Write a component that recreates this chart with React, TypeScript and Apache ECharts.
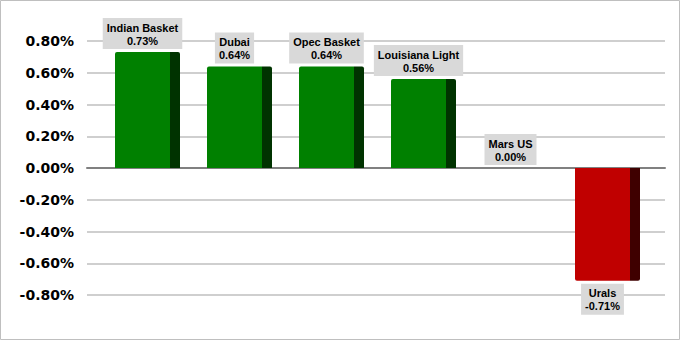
import React, { useEffect, useRef } from "react";
import * as echarts from "echarts";

const categories = ["Indian Basket", "Dubai", "Opec Basket", "Louisiana Light", "Mars US", "Urals"];
const values = [0.73, 0.64, 0.64, 0.56, 0.0, -0.71];
const yTicks = { min: -0.8, max: 0.8, interval: 0.2 };

const POS_FRONT = "#008000";
const POS_SIDE = "#003300";
const NEG_FRONT = "#c00000";
const NEG_SIDE = "#3f0000";

export default function App() {
  const ref = useRef<HTMLDivElement>(null);
  useEffect(() => {
    if (!ref.current) return;
    const chart = echarts.init(ref.current, null, { renderer: "svg" });
    const front = values.map((v) => ({
      value: v,
      itemStyle: {
        color: v < 0 ? NEG_FRONT : POS_FRONT,
        borderRadius: v < 0 ? [0, 0, 0, 2] : [2, 0, 0, 0],
      },
      label: { position: v < 0 ? "bottom" : "top" },
    }));
    const side = values.map((v) => ({
      value: v,
      itemStyle: {
        color: v < 0 ? NEG_SIDE : POS_SIDE,
        borderRadius: v < 0 ? [0, 0, 2, 0] : [0, 2, 0, 0],
      },
    }));
    chart.setOption({
      animation: false,
      backgroundColor: "#ffffff",
      graphic: [
        {
          type: "rect",
          shape: { x: 0.5, y: 0.5, width: 679, height: 339 },
          style: { fill: "none", stroke: "#bfbfbf", lineWidth: 1 },
          z: 100,
        },
      ],
      grid: [
        { left: 87, right: 16, top: 41, bottom: 46 },
        { left: 101.5, right: 27.5, top: 41, bottom: 46 },
      ],
      xAxis: [
        {
          gridIndex: 0,
          type: "category",
          data: [""],
          axisLine: { show: true, onZero: true, lineStyle: { color: "#808080", width: 2 } },
          axisTick: { show: false },
          axisLabel: { show: false },
          z: 5,
        },
        {
          gridIndex: 1,
          type: "category",
          data: categories,
          axisLine: { show: false },
          axisTick: { show: false },
          axisLabel: { show: false },
        },
      ],
      yAxis: [
        {
          gridIndex: 0,
          type: "value",
          min: yTicks.min,
          max: yTicks.max,
          interval: yTicks.interval,
          axisLine: { show: false },
          axisTick: { show: false },
          splitLine: { lineStyle: { color: "#bfbfbf", width: 1.5 } },
          axisLabel: {
            margin: 13,
            fontFamily: "DejaVu Sans",
            fontWeight: "bold",
            fontSize: 14,
            color: "#000",
            formatter: (v: number) => v.toFixed(2) + "%",
          },
        },
        {
          gridIndex: 1,
          type: "value",
          min: yTicks.min,
          max: yTicks.max,
          interval: yTicks.interval,
          axisLine: { show: false },
          axisTick: { show: false },
          splitLine: { show: false },
          axisLabel: { show: false },
        },
      ],
      series: [
        {
          type: "bar",
          xAxisIndex: 1,
          yAxisIndex: 1,
          data: front,
          barWidth: 55,
          barGap: "0%",
          z: 10,
          label: {
            show: true,
            distance: 3,
            formatter: (p: any) => p.name + "\n" + Number(p.value).toFixed(2) + "%",
            backgroundColor: "#d9d9d9",
            padding: [3, 4, 2, 4],
            fontFamily: "Liberation Sans",
            fontWeight: "bold",
            fontSize: 11,
            lineHeight: 13,
            color: "#000",
            align: "center",
          },
        },
        {
          type: "bar",
          xAxisIndex: 1,
          yAxisIndex: 1,
          data: side,
          barWidth: 10,
          barGap: "0%",
          z: 9,
        },
      ],
    });
    return () => chart.dispose();
  }, []);
  return (
    <div
      ref={ref}
      style={{ position: "absolute", left: 0, top: 0, width: 681, height: 341 }}
    />
  );
}
